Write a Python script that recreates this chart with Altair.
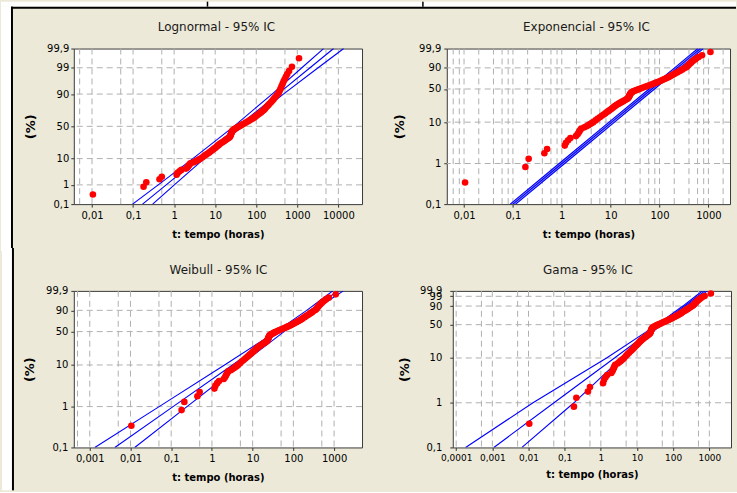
import math
from statistics import NormalDist
import pandas as pd
import altair as alt

# ---------------- data ----------------
# plotted failure times (hours) and their plotting positions (%)
pts_pct = [0.34, 0.82, 1.30, 1.78, 2.26, 2.74, 3.22, 3.70, 4.18, 4.66, 5.14, 5.62, 6.10, 6.58, 7.06, 7.54,
           8.0, 8.5, 9.0, 9.5, 10.0,
           11, 12, 13, 14, 15, 16, 17, 18, 19, 20, 21, 22, 23, 24, 25, 26, 27, 28, 29, 30,
           31, 32, 33, 34, 35, 36, 37, 38, 39, 40, 41, 42, 43, 44, 45, 46, 47, 48, 49, 50,
           51.5, 53, 54.5, 56, 57.5, 59, 60.5, 62, 63.5, 65, 66.5, 68, 69.5, 71, 72.5, 74, 75.5, 77,
           78.5, 80, 81.5, 83, 84.5, 86, 87.5, 89, 90.5,
           91.5, 92.5, 93.5, 94.5, 95.5, 96.3, 97, 97.6, 98.1, 98.6, 99.1, 99.66]
pts_time = [0.0105, 0.18, 0.21, 0.44, 0.50, 1.15, 1.22, 1.35, 1.50, 1.95, 2.10, 2.20, 2.30, 2.40, 2.50, 2.9,
            3.2, 3.5, 3.8, 4.1, 4.4,
            4.9, 5.4, 6.0, 6.6, 7.2, 7.8, 8.4, 9.0, 9.6, 10.3, 10.9, 11.5, 12.2, 12.9, 13.6, 14.6, 15.6, 16.6, 17.6, 18.6,
            19.8, 21.0, 22.0, 22.8, 23.2, 23.6, 24.0, 24.3, 24.6, 24.9, 25.3, 25.7, 26.3, 27.2, 28.5, 30, 32, 34, 36, 38.5,
            42, 46, 51, 56, 62, 68, 74, 81, 88, 95, 103, 111, 120, 130, 140, 151, 162, 170,
            182, 196, 210, 228, 246, 265, 288, 313, 345,
            362, 378, 395, 415, 440, 465, 495, 530, 570, 630, 740, 1100]
assert len(pts_pct) == len(pts_time)

# fitted line and 95% confidence limits, read at these percent levels
line_pct = [0.1, 1, 10, 50, 90, 99, 99.9]
ln_left = [0.097, 0.41, 2.85, 28.5, 243, 1290, 4350]
ln_mid = [0.17, 0.64, 3.9, 36, 333, 2040, 7670]
ln_right = [0.30, 1.01, 5.4, 46, 458, 3210, 13500]

ex_left = [0.088, 0.884, 9.27, 61.0, 203, 405, 608]
ex_mid = [0.100, 1.005, 10.5, 69.3, 230, 460, 691]
ex_right = [0.114, 1.146, 12.0, 79.0, 262, 525, 788]

wb_left = [0.00133, 0.0506, 2.04, 37.5, 213, 543, 931]
wb_mid = [0.00412, 0.111, 3.19, 47.1, 261, 703, 1256]
wb_right = [0.0127, 0.244, 5.0, 59.2, 321, 910, 1694]

ga_left = [0.000182, 0.0133, 1.44, 36.1, 184, 415, 646]
ga_mid = [0.0011, 0.0507, 2.38, 41.5, 206, 476, 759]
ga_right = [0.0066, 0.18, 3.78, 47.6, 231, 547, 891]

GAMMA_SHAPE = 0.6

# axis ticks
prob_vals = [0.1, 1, 10, 50, 90, 99, 99.9]
prob_labels = ["0,1", "1", "10", "50", "90", "99", "99,9"]

# ---------------- probability-paper transforms ----------------
_nd = NormalDist()


def tf_norm(p):
    return _nd.inv_cdf(p / 100.0)


def tf_weib(p):
    return math.log(-math.log(1.0 - p / 100.0))


def _gamma_p(k, x):
    if x <= 0:
        return 0.0
    term = 1.0 / k
    s = term
    n = 0
    while True:
        n += 1
        term *= x / (k + n)
        s += term
        if term < s * 1e-16 or n > 2000:
            break
    return math.exp(k * math.log(x) - x - math.lgamma(k)) * s


def tf_gamma(p):
    q = p / 100.0
    lo, hi = -60.0, 4.0
    for _ in range(120):
        mid = 0.5 * (lo + hi)
        if _gamma_p(GAMMA_SHAPE, math.exp(mid)) < q:
            lo = mid
        else:
            hi = mid
    return 0.5 * (lo + hi) / math.log(10.0)


FONT = "DejaVu Sans"
GRID = "#b0b0b0"
BLUE = "#0000ff"
RED = "#ff0000"

one = pd.DataFrame({"k": [0]})


def box(x1, x2, y1, y2, color):
    return alt.Chart(one).mark_rect(color=color, opacity=1).encode(
        x=alt.value(x1), x2=alt.value(x2), y=alt.value(y1), y2=alt.value(y2))


def panel(title, title_xy, tf, xlog, width, height, xticks, xgrid, ygrid, ylabels_keep, lines,
          ytitle_x, xtitle_y, ylabel_pad, xlabel_size=10, band=False, extra=None):
    xs = alt.Scale(type="log", domain=[10 ** xlog[0], 10 ** xlog[1]], nice=False)
    ys = alt.Scale(domain=[tf(0.1), tf(99.9)], nice=False, zero=False)
    xa = alt.Axis(values=xticks, labelExpr="replace(toString(datum.value), '.', ',')",
                  grid=False, domain=False, ticks=True, tickSize=3, tickColor="#333333",
                  labelFont=FONT, labelFontSize=xlabel_size, labelColor="#000000", labelPadding=3,
                  labelOverlap=False, labelFlush=False,
                  title="t: tempo (horas)", titleFont=FONT, titleFontSize=10, titleFontWeight="bold",
                  titleColor="#000000", titleX=width / 2, titleY=xtitle_y, titleBaseline="middle",
                  titleAlign="center")
    yvals = [tf(p) for p, l in zip(prob_vals, prob_labels) if l in ylabels_keep]
    ylabs = [l for l in prob_labels if l in ylabels_keep]
    expr = " : ".join(f"abs(datum.value - ({v:.9f})) < 1e-6 ? '{l}'" for v, l in zip(yvals, ylabs)) + " : ''"
    ya = alt.Axis(values=yvals, labelExpr=expr, grid=False, domain=False, tickSize=3, tickColor="#333333",
                  labelFont=FONT, labelFontSize=10, labelColor="#000000", labelPadding=ylabel_pad,
                  labelOverlap=False, labelFlush=False,
                  title="(%)", titleFont=FONT, titleFontSize=13, titleFontWeight="bold", titleColor="#000000",
                  titleAngle=270, titleX=ytitle_x, titleY=height / 2, titleBaseline="middle",
                  titleAlign="center")

    lo_t, hi_t = 10 ** xlog[0], 10 ** xlog[1]
    gx = pd.DataFrame({"t": [g for g in xgrid if lo_t < g < hi_t]})
    gy = pd.DataFrame({"y": [tf(p) for p in ygrid]})

    rows = []
    for name, arr in lines:
        for i, (p, t) in enumerate(zip(line_pct, arr)):
            rows.append({"s": name, "o": i, "t": t, "y": tf(p)})
    ldf = pd.DataFrame(rows)
    pdf = pd.DataFrame({"t": pts_time, "y": [tf(p) for p in pts_pct]})

    X = lambda f: alt.X(f, type="quantitative", scale=xs, axis=xa)
    Y = lambda f: alt.Y(f, type="quantitative", scale=ys, axis=ya)

    layers = [
        alt.Chart(gx).mark_rule(color=GRID, strokeDash=[6, 4], strokeWidth=1).encode(x=X("t")),
        alt.Chart(gy).mark_rule(color=GRID, strokeDash=[6, 4], strokeWidth=1).encode(y=Y("y")),
    ]
    if band:
        bdf = pd.DataFrame({"y": [tf(p) for p in line_pct],
                            "a": lines[0][1], "b": lines[2][1]})
        layers.append(alt.Chart(bdf).mark_area(orient="horizontal", color="#3a3aff", opacity=0.5,
                                               clip=True).encode(y=Y("y"), x=X("a"), x2="b"))
    layers += [
        alt.Chart(ldf).mark_line(color=BLUE, strokeWidth=1.1, clip=True).encode(
            x=X("t"), y=Y("y"), detail="s:N", order="o:Q"),
        alt.Chart(pdf).mark_circle(color=RED, size=44, opacity=1).encode(x=X("t"), y=Y("y")),
        alt.Chart(one).mark_text(text=title, font=FONT, fontSize=12, color="#1a1a1a",
                                 align="center", baseline="middle").encode(
            x=alt.value(title_xy[0]), y=alt.value(title_xy[1])),
    ]
    if extra:
        layers += extra
    return alt.layer(*layers).properties(width=width, height=height)


# page frame (white margin + black border, cut-off caption strokes), relative to panel origins
frame_top = [box(-73, 664, -47, -42, "#ffffff"), box(-73, -63, -42, 203, "#ffffff"),
             box(-63, 664, -42, -40, "#000000"), box(-63, -61, -42, 203, "#000000"),
             box(133.3, 134.8, -47, -42, "#000000"), box(349.3, 350.8, -47, -42, "#000000")]
frame_bot = [box(-72, -62, -43, 200, "#ffffff"), box(-62, -60, -43, 200, "#000000")]

dec = lambda a, b: [10.0 ** e for e in range(a, b + 1)]
g15 = lambda a, b: sorted([m * 10.0 ** e for e in range(a, b + 1) for m in (1, 5)])
g2468 = lambda a, b: sorted([m * 10.0 ** e for e in range(a, b + 1) for m in (1, 2, 4, 6, 8)])

p1 = panel("Lognormal - 95% IC", (143, -22), tf_norm, (-2.444, 4.576), 289, 156, dec(-2, 4), g15(-3, 4),
           [1, 10, 50, 90, 99], prob_labels,
           [("l", ln_left), ("m", ln_mid), ("r", ln_right)], ytitle_x=-43, xtitle_y=30, ylabel_pad=2,
           extra=frame_top)
p2 = panel("Exponencial - 95% IC", (140, -22), tf_weib, (-2.353, 3.442), 284, 156, dec(-2, 3), g2468(-3, 3),
           [1, 10, 50, 90], ["0,1", "1", "10", "50", "90", "99,9"],
           [("l", ex_left), ("m", ex_mid), ("r", ex_right)], ytitle_x=-47, xtitle_y=30, ylabel_pad=3,
           band=True)
p3 = panel("Weibull - 95% IC", (145, -21), tf_weib, (-3.392, 3.686), 289, 157, dec(-3, 3), g15(-4, 3),
           [1, 10, 50, 90], ["0,1", "1", "10", "50", "90", "99,9"],
           [("l", wb_left), ("m", wb_mid), ("r", wb_right)], ytitle_x=-44, xtitle_y=30, ylabel_pad=3,
           extra=frame_bot)
p4 = panel("Gama - 95% IC", (135.5, -21), tf_gamma, (-4.094, 3.599), 279, 157, dec(-4, 3), g15(-5, 3),
           [1, 10, 50, 90, 99], prob_labels,
           [("l", ga_left), ("m", ga_mid), ("r", ga_right)], ytitle_x=-48, xtitle_y=27, ylabel_pad=8,
           xlabel_size=9)

row1 = alt.hconcat(p1, p2, spacing=85, bounds="flush")
row2 = alt.hconcat(p3, p4, spacing=91, bounds="flush")

chart = alt.vconcat(row1, row2, spacing=-5).properties(
    background="#ece9d8", padding=0
).configure_view(stroke="#3a3a3a", strokeWidth=1, fill="#ffffff")

chart.save("out.html", embed_options={"renderer": "svg", "actions": False})
